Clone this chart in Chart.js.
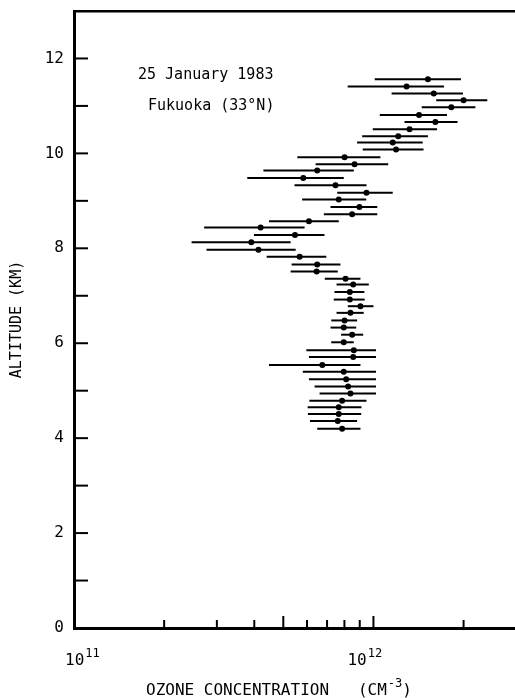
<!DOCTYPE html>
<html lang="en">
<head>
    <meta charset="UTF-8">
    <title>Ozone profile</title>
    <style>
        body{
            margin:0;
            background:#fff;
        }
    </style>
</head>
<body>
    <canvas id="mychart" width="515" height="698"></canvas>
    <script src="https://cdn.jsdelivr.net/npm/chart.js@4.4.0/dist/chart.umd.min.js"></script>
    <script>
        /* altitude (km) and ozone concentration in units of 10^11 cm^-3 */
        const altitude = [11.56, 11.41, 11.26, 11.12, 10.97, 10.81, 10.66, 10.51, 10.36, 10.23,
                          10.08, 9.92, 9.77, 9.64, 9.48, 9.33, 9.17, 9.03, 8.87, 8.72,
                          8.57, 8.44, 8.28, 8.13, 7.97, 7.82, 7.66, 7.51, 7.36, 7.24,
                          7.08, 6.92, 6.78, 6.64, 6.48, 6.33, 6.18, 6.02, 5.85, 5.71,
                          5.54, 5.40, 5.24, 5.09, 4.94, 4.79, 4.65, 4.51, 4.36, 4.20];
        const ozone =    [15.2, 12.9, 15.9, 20.0, 18.2, 14.2, 16.1, 13.2, 12.1, 11.6,
                          11.9, 8.01, 8.65, 6.49, 5.83, 7.47, 9.48, 7.66, 8.98, 8.49,
                          6.09, 4.20, 5.47, 3.91, 4.13, 5.67, 6.49, 6.46, 8.07, 8.56,
                          8.34, 8.34, 9.05, 8.38, 8.01, 7.96, 8.49, 7.96, 8.60, 8.56,
                          6.75, 7.96, 8.11, 8.23, 8.38, 7.86, 7.66, 7.66, 7.60, 7.86];
        const ozoneLow = [10.1, 8.2, 11.5, 16.2, 14.5, 10.5, 12.7, 9.95, 9.17, 8.82,
                          9.21, 5.57, 6.41, 4.29, 3.79, 5.45, 7.57, 5.78, 7.19, 6.83,
                          4.48, 2.72, 3.99, 2.47, 2.77, 4.40, 5.33, 5.29, 6.88, 7.53,
                          7.41, 7.37, 8.21, 7.53, 7.23, 7.19, 7.80, 7.23, 5.97, 6.09,
                          4.48, 5.81, 6.09, 6.36, 6.61, 6.11, 6.03, 6.04, 6.14, 6.49];
        const ozoneHigh = [19.6, 17.2, 19.9, 24.0, 21.9, 17.6, 19.1, 16.3, 15.2, 14.6,
                          14.7, 10.55, 11.2, 8.60, 7.96, 9.48, 11.6, 9.46, 10.3, 10.3,
                          7.66, 5.89, 6.86, 5.29, 5.50, 6.96, 7.76, 7.60, 9.05, 9.65,
                          9.33, 9.35, 10.0, 9.28, 8.82, 8.76, 9.24, 8.60, 10.2, 10.2,
                          9.05, 10.2, 10.2, 10.2, 10.2, 9.48, 9.12, 9.10, 8.82, 9.05];

        // axis ticks
        const xLabelTicks = [1e11, 1e12];
        const xLabelExp = ['11', '12'];
        const xMinorTicks = [2e11, 3e11, 4e11, 5e11, 6e11, 7e11, 8e11, 9e11, 1e12, 2e12];
        const xLongTicks = [5e11, 1e12];
        const yTicks = [0, 1, 2, 3, 4, 5, 6, 7, 8, 9, 10, 11, 12];

        const UNIT = 1e11;
        const FONT = '"DejaVu Sans Mono", "Liberation Mono", monospace';

        const points = altitude.map((a, i) => ({x: ozone[i] * UNIT, y: a}));

        // text with a raised exponent, returns the x after it
        function supText(ctx, base, exp, x, y, size) {
            ctx.font = size + 'px ' + FONT;
            ctx.fillText(base, x, y);
            x += ctx.measureText(base).width;
            ctx.font = Math.round(size * 0.75) + 'px ' + FONT;
            ctx.fillText(exp, x + 1, y - 8);
            return x + 1 + ctx.measureText(exp).width;
        }

        // horizontal error bars + inward tick marks + labels + notes
        const extras = {
            id: 'extras',
            beforeDatasetsDraw(chart) {
                const {ctx, scales: {x, y}} = chart;
                ctx.save();
                ctx.strokeStyle = '#000';
                ctx.lineWidth = 2;
                altitude.forEach((a, i) => {
                    const py = y.getPixelForValue(a);
                    ctx.beginPath();
                    ctx.moveTo(x.getPixelForValue(ozoneLow[i] * UNIT), py);
                    ctx.lineTo(x.getPixelForValue(ozoneHigh[i] * UNIT), py);
                    ctx.stroke();
                });
                ctx.restore();
            },
            afterDraw(chart) {
                const {ctx, chartArea, scales: {x, y}} = chart;
                ctx.save();
                ctx.strokeStyle = '#000';
                ctx.lineWidth = 2;
                yTicks.forEach(v => {
                    const py = y.getPixelForValue(v);
                    ctx.beginPath();
                    ctx.moveTo(chartArea.left, py);
                    ctx.lineTo(chartArea.left + 14, py);
                    ctx.stroke();
                });
                xMinorTicks.forEach(v => {
                    const px = x.getPixelForValue(v);
                    const len = xLongTicks.includes(v) ? 12 : 8;
                    ctx.beginPath();
                    ctx.moveTo(px, chartArea.bottom);
                    ctx.lineTo(px, chartArea.bottom - len);
                    ctx.stroke();
                });

                ctx.fillStyle = '#000';
                ctx.textBaseline = 'alphabetic';
                ctx.textAlign = 'left';

                // 10^11, 10^12 labels
                xLabelTicks.forEach((v, i) => {
                    const px = x.getPixelForValue(v);
                    const left = Math.max(px - 26, 65);
                    supText(ctx, '10', xLabelExp[i], left, 665, 16);
                });

                // x axis title
                const tx = supText(ctx, 'OZONE CONCENTRATION   (CM', '-3', 146, 695, 16);
                ctx.font = '16px ' + FONT;
                ctx.fillText(')', tx, 695);

                ctx.font = '15px ' + FONT;
                ctx.fillText('25 January 1983', 138, 79);
                ctx.fillText('Fukuoka (33°N)', 148, 110);
                ctx.restore();
            }
        };

        const mychart = document.getElementById('mychart');
        new Chart(mychart, {
            type: 'scatter',
            data: {
                datasets: [
                    {
                        label: 'ozone',
                        data: points,
                        pointRadius: 3,
                        pointBackgroundColor: '#000',
                        pointBorderColor: '#000',
                        pointBorderWidth: 0,
                    }
                ]
            },
            options: {
                responsive: false,
                animation: false,
                layout: { padding: 0, autoPadding: false },
                plugins: {
                    legend: { display: false },
                    tooltip: { enabled: false },
                },
                scales: {
                    x: {
                        type: 'logarithmic',
                        position: 'bottom',
                        min: 1e11,
                        max: 2.97e12,
                        afterBuildTicks: s => { s.ticks = xLabelTicks.map(v => ({value: v})); },
                        afterFit: s => { s.height = 70; s.paddingLeft = 0; s.paddingRight = 0; },
                        grid: { drawOnChartArea: false, drawTicks: false },
                        border: { color: '#000', width: 3 },
                        ticks: { display: false },
                    },
                    x2: {
                        type: 'logarithmic',
                        position: 'top',
                        min: 1e11,
                        max: 2.97e12,
                        afterFit: s => { s.height = 11; s.paddingLeft = 0; s.paddingRight = 0; },
                        grid: { drawOnChartArea: false, drawTicks: false },
                        border: { color: '#000', width: 2.5 },
                        ticks: { display: false },
                    },
                    y: {
                        type: 'linear',
                        min: 0,
                        max: 13,
                        afterBuildTicks: s => { s.ticks = yTicks.map(v => ({value: v})); },
                        afterFit: s => { s.width = 74; s.paddingTop = 0; s.paddingBottom = 0; },
                        grid: { drawOnChartArea: false, drawTicks: false },
                        border: { color: '#000', width: 3 },
                        ticks: {
                            padding: 10,
                            color: '#000',
                            font: { family: FONT, size: 16 },
                            callback: v => (v % 2 === 0 ? String(v) : ''),
                        },
                        title: {
                            display: true,
                            text: 'ALTITUDE (KM)',
                            color: '#000',
                            font: { family: FONT, size: 15 },
                            padding: { top: 8, bottom: 0 },
                        },
                    },
                },
            },
            plugins: [extras],
        });
    </script>
</body>
</html>
